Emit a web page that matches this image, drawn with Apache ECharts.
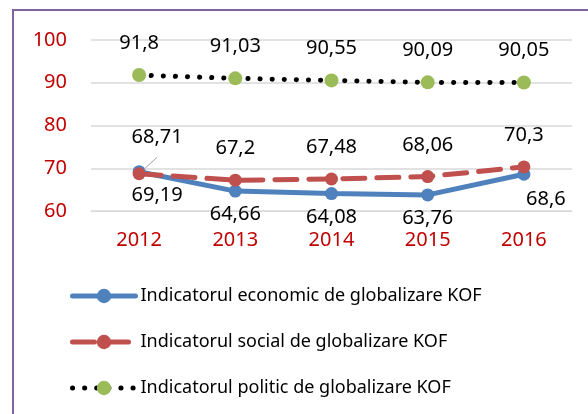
<!DOCTYPE html>
<html>
<head>
<meta charset="utf-8">
<script src="https://cdn.jsdelivr.net/npm/echarts@6/dist/echarts.min.js"></script>
<style>
  html, body { margin: 0; padding: 0; background: #fff; }
  #chart { width: 588px; height: 414px; }
</style>
</head>
<body>
<div id="chart"></div>
<script>
var years = ['2012', '2013', '2014', '2015', '2016'];
var economic = [69.19, 64.66, 64.08, 63.76, 68.6];
var social = [68.71, 67.2, 67.48, 68.06, 70.3];
var politic = [91.8, 91.03, 90.55, 90.09, 90.05];
var names = [
    'Indicatorul economic de globalizare KOF',
    'Indicatorul social de globalizare KOF',
    'Indicatorul politic de globalizare KOF'
];

var font = 'Noto Sans';
var red = '#C00000';
var fmt = function(p) { return String(p.value).replace('.', ','); };

var labelBase = { show: true, color: '#000', fontSize: 20, fontFamily: font, formatter: fmt };

var chart = echarts.init(document.getElementById('chart'));
chart.setOption({
    animation: false,
    backgroundColor: '#fff',
    graphic: [{
        type: 'rect',
        shape: { x: 13, y: 10, width: 620, height: 440 },
        style: { fill: null, stroke: '#8064A2', lineWidth: 2 },
        silent: true
    }],
    grid: { left: 91, right: 16, top: 40, bottom: 203 },
    legend: {
        orient: 'vertical',
        left: 65,
        top: 282,
        itemWidth: 63,
        itemHeight: 18,
        itemGap: 28,
        lineStyle: { width: 5 },
        textStyle: { color: '#000', fontSize: 18, fontFamily: font },
        data: names
    },
    xAxis: {
        type: 'category',
        data: years,
        axisLine: { lineStyle: { color: '#d9d9d9', width: 1 } },
        axisTick: { show: false },
        axisLabel: { color: red, fontSize: 20, fontFamily: font, margin: 19 }
    },
    yAxis: {
        type: 'value',
        min: 60,
        max: 100,
        interval: 10,
        axisLine: { show: false },
        axisTick: { show: false },
        axisLabel: { color: red, fontSize: 20, fontFamily: font, margin: 24 },
        splitLine: { lineStyle: { color: '#d9d9d9', width: 1.5 } }
    },
    series: [{
        name: names[0],
        type: 'line',
        data: economic.map(function(v, i) {
            if (i === 0) return { value: v, label: { offset: [18, 0] } };
            if (i === 4) return { value: v, label: { offset: [22, 2] } };
            return v;
        }),
        symbol: 'circle',
        symbolSize: 13,
        itemStyle: { color: '#4F81BD' },
        lineStyle: { color: '#4F81BD', width: 5, cap: 'round' },
        label: Object.assign({}, labelBase, { position: 'bottom', distance: 7 }),
        z: 3
    }, {
        name: names[1],
        type: 'line',
        data: social.map(function(v, i) {
            if (i === 0) {
                return { value: v, label: { offset: [18, -5] }, labelLine: { show: true } };
            }
            return v;
        }),
        symbol: 'circle',
        symbolSize: 13,
        itemStyle: { color: '#C0504D' },
        lineStyle: { color: '#C0504D', width: 5, type: [22, 12], cap: 'round' },
        label: Object.assign({}, labelBase, { position: 'top', distance: 15 }),
        labelLine: { lineStyle: { color: '#a6a6a6', width: 1 } },
        z: 4
    }, {
        name: names[2],
        type: 'line',
        data: politic,
        symbol: 'circle',
        symbolSize: 14,
        itemStyle: { color: '#9BBB59' },
        lineStyle: { color: '#000', width: 5, type: [0.1, 12], cap: 'round' },
        label: Object.assign({}, labelBase, { position: 'top', distance: 15 }),
        z: 3
    }]
});
</script>
</body>
</html>
